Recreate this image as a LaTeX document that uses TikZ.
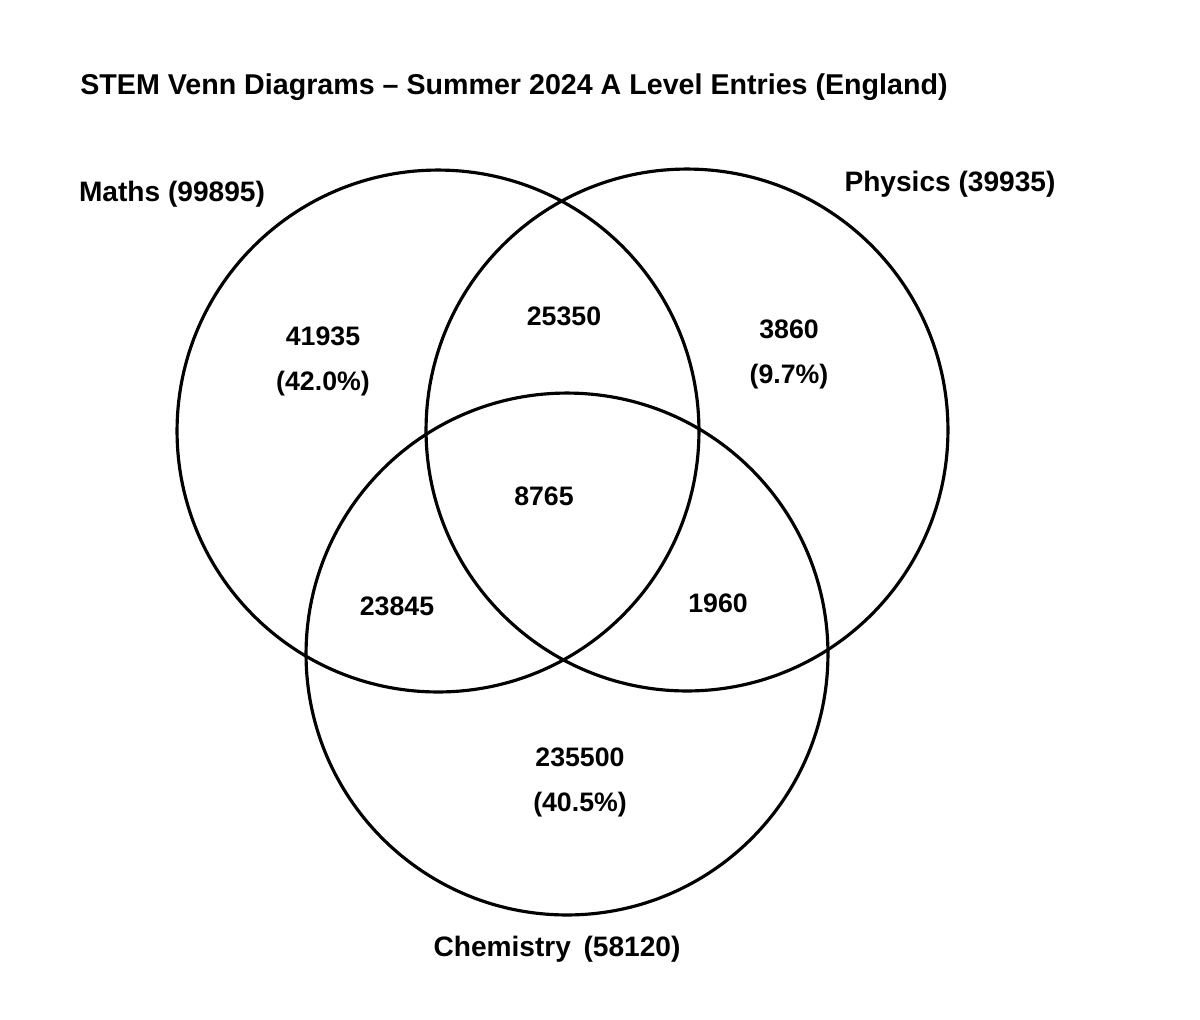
\documentclass[tikz,border=0pt]{standalone}
\usepackage{fontspec}
\setmainfont{Liberation Sans}
\usepackage{tikz}
\usetikzlibrary{positioning}

\begin{document}
\begin{tikzpicture}[
  x=0.02cm, y=-0.02cm,
  setcircle/.style={circle, draw=black, line width=1.8pt, minimum size=10.44cm, inner sep=0pt},
  setname/.style={font=\fontsize{16}{19}\selectfont\bfseries, inner sep=0pt},
  count/.style={font=\fontsize{15.2}{18}\selectfont\bfseries, inner sep=0pt, align=center}
]
\useasboundingbox[fill=white] (0,0) rectangle (1200,1019);

\node[font=\fontsize{16.3}{19}\selectfont\bfseries, inner sep=0pt] (title) at (514,87)
  {STEM Venn Diagrams -- Summer 2024 A Level Entries (England)};

% the three sets
\node[setcircle] (maths) at (438,431) {};
\node[setcircle] (physics) at (687,430) {};
\node[setcircle] (chem) at (567,654) {};

\node[setname] (mathsname) at (172,194) {Maths (99895)};
\node[setname] (physname) at (950,184) {Physics (39935)};
\node[setname] (chemname) at (557,949) {Chemistry\, (58120)};

% region counts
\node[count] (monly) at (323,336) {41935};
\node[count, below=0.5cm of monly] (mpct) {(42.0\%)};
\node[count] (mp) at (564,316) {25350};
\node[count] (ponly) at (789,329) {3860};
\node[count, below=0.5cm of ponly] (ppct) {(9.7\%)};
\node[count] (mpc) at (544,496) {8765};
\node[count] (mc) at (397,606) {23845};
\node[count] (pc) at (718,603) {1960};
\node[count] (conly) at (580,757) {235500};
\node[count, below=0.5cm of conly] (cpct) {(40.5\%)};
\end{tikzpicture}
\end{document}
